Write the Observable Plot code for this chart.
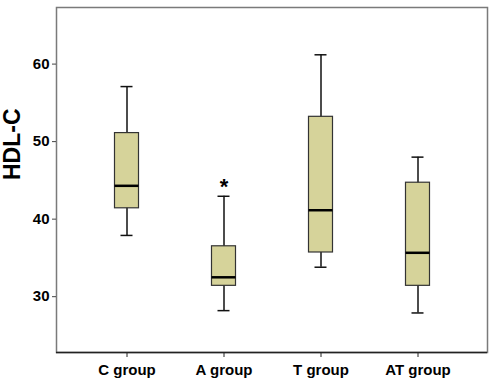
<!DOCTYPE html>
<html>
<head>
<meta charset="utf-8">
<script src="https://cdn.jsdelivr.net/npm/d3@7"></script>
<script src="https://cdn.jsdelivr.net/npm/@observablehq/plot@0.6"></script>
<style>
  html, body { margin: 0; padding: 0; background: #fff; }
  svg { display: block; }
</style>
</head>
<body>
<div id="chart"></div>
<script>
const groups = ["C group", "A group", "T group", "AT group"];
const whiskerLow  = [37.9, 28.2, 33.8, 27.9];
const q1          = [41.4, 31.4, 35.7, 31.4];
const median      = [44.3, 32.5, 41.15, 35.66];
const q3          = [51.1, 36.5, 53.2, 44.7];
const whiskerHigh = [57.1, 42.95, 61.2, 48.0];
const extremeGroups = ["A group"];
const extremeValues = [44.6];
const yTicks = [30, 40, 50, 60];

const rows = groups.map((g, i) => ({
  group: g, lo: whiskerLow[i], q1: q1[i], med: median[i], q3: q3[i], hi: whiskerHigh[i]
}));
const extremes = extremeGroups.map((g, i) => ({group: g, value: extremeValues[i]}));

const fontFam = "Arial, 'Liberation Sans', Helvetica, sans-serif";

const chart = Plot.plot({
  width: 490,
  height: 384,
  marginLeft: 56,
  marginRight: 3,
  marginTop: 7,
  marginBottom: 32,
  style: {fontFamily: fontFam, background: "#fff", color: "#000"},
  x: {type: "band", domain: groups, paddingInner: 0, paddingOuter: 0.2216, label: null},
  y: {domain: [22.8, 67.3], label: null},
  marks: [
    Plot.frame({stroke: "#7a7a7a", strokeWidth: 1.5}),
    Plot.ruleY([22.8], {stroke: "#222", strokeWidth: 1.5}),
    Plot.axisY({
      ticks: yTicks, tickSize: 4, tickPadding: 3, tickFormat: d => d,
      fontSize: 15, fontWeight: "bold", stroke: "#444", fill: "#000", label: null
    }),
    Plot.axisX({
      tickSize: 5, tickPadding: 7, fontSize: 15, fontWeight: "bold",
      stroke: "#222", fill: "#000", label: null
    }),
    Plot.text(["HDL-C"], {
      frameAnchor: "left", rotate: -90, dx: -44, fontSize: 23, fontWeight: "bold", fill: "#000"
    }),
    // whiskers
    Plot.ruleX(rows, {x: "group", y1: "lo", y2: "hi", stroke: "#111", strokeWidth: 1.5}),
    // caps
    Plot.tickY(rows, {x: "group", y: "hi", stroke: "#111", strokeWidth: 1.5, insetLeft: 42.5, insetRight: 42.5}),
    Plot.tickY(rows, {x: "group", y: "lo", stroke: "#111", strokeWidth: 1.5, insetLeft: 42.5, insetRight: 42.5}),
    // boxes
    Plot.barY(rows, {x: "group", y1: "q1", y2: "q3", fill: "#d6d39a", stroke: "#333", strokeWidth: 1.2, insetLeft: 36.5, insetRight: 36.5}),
    // medians
    Plot.tickY(rows, {x: "group", y: "med", stroke: "#000", strokeWidth: 2.5, insetLeft: 36.5, insetRight: 36.5}),
    // extreme value marker
    Plot.text(extremes, {x: "group", y: "value", text: () => "*", fontSize: 22, fontWeight: "bold", fill: "#000", dy: 3})
  ]
});
document.getElementById("chart").appendChild(chart);
</script>
</body>
</html>
